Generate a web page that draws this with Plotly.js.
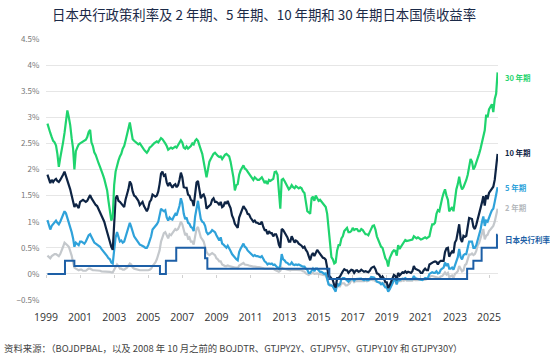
<!DOCTYPE html>
<html>
<head>
<meta charset="utf-8">
<script src="https://cdn.plot.ly/plotly-3.0.1.min.js"></script>
<style>
  html, body { margin: 0; padding: 0; background: #fff; }
  #chart { width: 550px; height: 360px; }
</style>
</head>
<body>
<div id="chart"></div>
<script>
// Monthly observations, Aug 1999 .. Jan 2026 (percent)
const startYear = 1999, startMonth = 8;

const jgb30y = [
  2.88, 2.76, 2.70, 2.62, 2.55,
  2.52, 2.46, 2.30, 2.05, 2.22, 2.35, 2.52, 2.70, 2.95, 3.13, 3.00, 2.85,
  2.60, 2.40, 2.00, 2.35, 2.42, 2.48, 2.50, 2.52, 2.53, 2.55, 2.57, 2.62,
  2.72, 2.76, 2.52, 2.45, 2.33, 2.28, 2.18, 2.12, 2.05, 1.99, 1.90, 1.82,
  1.72, 1.60, 1.40, 1.15, 1.02, 1.10, 1.70, 1.96, 2.10, 2.17, 2.25, 2.30,
  2.40, 2.45, 2.55, 2.65, 2.78, 2.90, 2.70, 2.58, 2.55, 2.52, 2.50, 2.48,
  2.50, 2.45, 2.42, 2.38, 2.35, 2.32, 2.36, 2.42, 2.44, 2.48, 2.50, 2.52,
  2.54, 2.52, 2.56, 2.60, 2.58, 2.55, 2.50, 2.45, 2.38, 2.40, 2.42, 2.40,
  2.42, 2.44, 2.42, 2.46, 2.50, 2.56, 2.52, 2.42, 2.40, 2.44, 2.40, 2.42,
  2.45, 2.50, 2.48, 2.55, 2.58, 2.55, 2.45, 2.38, 2.30, 2.15, 2.02, 1.85,
  2.00, 2.15, 2.20, 2.25, 2.30, 2.32, 2.28, 2.26, 2.24, 2.25, 2.20, 2.25,
  2.28, 2.30, 2.28, 2.25, 2.15, 2.00, 1.85, 1.60, 1.70, 1.72, 1.90, 1.98,
  2.04, 2.08, 2.02, 2.00, 1.96, 1.92, 1.88, 1.84, 1.80, 1.85, 1.82, 1.80,
  1.80, 1.82, 1.85, 1.80, 1.74, 1.78, 1.72, 1.80, 1.78, 1.80, 1.82, 1.95,
  1.96, 1.90, 1.55, 1.25, 1.80, 1.82, 1.78, 1.72, 1.68, 1.62, 1.65, 1.70,
  1.66, 1.64, 1.68, 1.66, 1.64, 1.66, 1.64, 1.58, 1.55, 1.38, 1.20, 1.18,
  1.15, 1.45, 1.48, 1.40, 1.50, 1.45, 1.40, 1.42, 1.38, 1.35, 1.32, 1.28,
  1.15, 0.85, 0.60, 0.32, 0.28, 0.20, 0.22, 0.45, 0.55, 0.55, 0.68, 0.72,
  0.82, 0.86, 0.88, 0.80, 0.80, 0.82, 0.88, 0.84, 0.86, 0.86, 0.82, 0.82,
  0.86, 0.84, 0.80, 0.76, 0.76, 0.74, 0.80, 0.86, 0.92, 0.93, 0.85, 0.72,
  0.64, 0.60, 0.52, 0.50, 0.40, 0.30, 0.26, 0.14, 0.30, 0.38, 0.42, 0.45,
  0.44, 0.35, 0.55, 0.48, 0.52, 0.58, 0.60, 0.65, 0.63, 0.64, 0.65, 0.66,
  0.66, 0.72, 0.70, 0.68, 0.70, 0.68, 0.66, 0.67, 0.68, 0.70, 0.68, 0.70,
  0.72, 0.85, 0.95, 0.95, 0.98, 1.15, 1.22, 1.20, 1.35, 1.45, 1.55, 1.62,
  1.50, 1.42, 1.20, 1.25, 1.28, 1.20, 1.45, 1.62, 1.72, 1.86, 1.70, 1.62,
  1.66, 1.72, 1.80, 1.90, 2.10, 2.20, 2.15, 2.00, 2.05, 2.15, 2.25, 2.30,
  2.40, 2.52, 2.60, 2.75, 3.05, 3.00, 3.15, 3.20, 3.25, 3.10, 3.35, 3.45,
  3.86
];

const jgb10y = [
  1.90, 1.82, 1.74, 1.80, 1.76,
  1.80, 1.82, 1.78, 1.76, 1.80, 1.84, 1.90, 1.96, 1.88, 1.80, 1.74, 1.62,
  1.50, 1.40, 1.28, 1.34, 1.30, 1.26, 1.38, 1.40, 1.42, 1.40, 1.38, 1.40,
  1.46, 1.51, 1.45, 1.40, 1.38, 1.32, 1.30, 1.24, 1.20, 1.12, 1.06, 1.00,
  0.90, 0.80, 0.70, 0.60, 0.52, 0.46, 0.95, 1.45, 1.50, 1.40, 1.38, 1.35,
  1.32, 1.28, 1.42, 1.52, 1.62, 1.77, 1.72, 1.58, 1.50, 1.48, 1.45, 1.40,
  1.32, 1.35, 1.38, 1.30, 1.25, 1.20, 1.26, 1.38, 1.42, 1.52, 1.50, 1.48,
  1.50, 1.58, 1.72, 1.92, 1.96, 1.88, 1.90, 1.75, 1.68, 1.75, 1.70, 1.65,
  1.70, 1.72, 1.66, 1.70, 1.80, 1.94, 1.85, 1.66, 1.65, 1.65, 1.52, 1.50,
  1.42, 1.40, 1.30, 1.58, 1.75, 1.78, 1.58, 1.45, 1.50, 1.52, 1.45, 1.25,
  1.28, 1.30, 1.33, 1.42, 1.45, 1.38, 1.38, 1.36, 1.32, 1.38, 1.28, 1.30,
  1.38, 1.34, 1.40, 1.32, 1.26, 1.12, 1.06, 0.96, 0.92, 0.88, 1.08, 1.16,
  1.24, 1.30, 1.26, 1.22, 1.15, 1.14, 1.08, 1.03, 1.00, 1.02, 0.98, 0.98,
  0.96, 0.96, 1.00, 0.90, 0.84, 0.84, 0.76, 0.82, 0.78, 0.78, 0.72, 0.76,
  0.76, 0.68, 0.56, 0.50, 0.86, 0.84, 0.80, 0.74, 0.70, 0.62, 0.62, 0.72,
  0.64, 0.60, 0.64, 0.62, 0.58, 0.56, 0.54, 0.50, 0.52, 0.46, 0.42, 0.34,
  0.26, 0.36, 0.40, 0.34, 0.40, 0.46, 0.42, 0.38, 0.35, 0.31, 0.30, 0.27,
  0.12, -0.05, -0.05, -0.10, -0.12, -0.22, -0.26, -0.08, -0.08, -0.05, 0.02, 0.05,
  0.09, 0.07, 0.07, 0.02, 0.05, 0.08, 0.07, 0.02, 0.06, 0.07, 0.04, 0.05,
  0.08, 0.05, 0.04, 0.05, 0.04, 0.03, 0.06, 0.11, 0.13, 0.14, 0.09, 0.01,
  0.00, -0.03, -0.09, -0.05, -0.09, -0.16, -0.16, -0.27, -0.22, -0.14, -0.08, -0.02,
  -0.04, -0.12, 0.02, -0.03, 0.00, 0.03, 0.02, 0.05, 0.02, 0.04, 0.03, 0.02,
  0.05, 0.15, 0.10, 0.09, 0.08, 0.06, 0.02, 0.02, 0.07, 0.10, 0.07, 0.07,
  0.18, 0.20, 0.22, 0.23, 0.24, 0.23, 0.18, 0.23, 0.25, 0.25, 0.25, 0.42,
  0.49, 0.50, 0.33, 0.39, 0.43, 0.40, 0.60, 0.65, 0.77, 0.95, 0.67, 0.61,
  0.73, 0.71, 0.73, 0.88, 1.07, 1.06, 1.05, 0.90, 0.86, 0.94, 1.05, 1.10,
  1.23, 1.37, 1.49, 1.31, 1.51, 1.43, 1.55, 1.60, 1.65, 1.67, 1.80, 2.05,
  2.30
];

const jgb5y = [
  1.03, 0.92, 0.85, 0.92, 0.96,
  1.00, 1.02, 0.98, 0.95, 1.00, 1.06, 1.12, 1.20, 1.16, 1.08, 1.00, 0.88,
  0.80, 0.68, 0.52, 0.60, 0.58, 0.55, 0.62, 0.62, 0.60, 0.58, 0.62, 0.68,
  0.74, 0.76, 0.70, 0.64, 0.60, 0.58, 0.56, 0.54, 0.52, 0.48, 0.45, 0.42,
  0.38, 0.34, 0.30, 0.28, 0.22, 0.20, 0.45, 0.70, 0.80, 0.68, 0.62, 0.64,
  0.60, 0.62, 0.70, 0.80, 0.90, 0.98, 0.90, 0.78, 0.72, 0.68, 0.64, 0.60,
  0.56, 0.55, 0.54, 0.52, 0.50, 0.50, 0.55, 0.62, 0.72, 0.85, 0.88, 0.90,
  0.95, 1.00, 1.12, 1.25, 1.22, 1.20, 1.22, 1.08, 1.02, 1.08, 1.05, 1.04,
  1.10, 1.15, 1.12, 1.20, 1.30, 1.45, 1.35, 1.15, 1.05, 1.08, 0.98, 0.96,
  0.90, 0.88, 0.82, 1.10, 1.30, 1.40, 1.22, 1.05, 1.00, 0.98, 0.92, 0.80,
  0.76, 0.78, 0.80, 0.84, 0.82, 0.80, 0.74, 0.68, 0.64, 0.70, 0.58, 0.56,
  0.52, 0.50, 0.54, 0.50, 0.44, 0.38, 0.34, 0.30, 0.28, 0.26, 0.42, 0.48,
  0.54, 0.58, 0.52, 0.50, 0.45, 0.42, 0.40, 0.36, 0.34, 0.36, 0.34, 0.34,
  0.33, 0.32, 0.34, 0.28, 0.24, 0.22, 0.18, 0.20, 0.19, 0.20, 0.17, 0.18,
  0.14, 0.12, 0.10, 0.16, 0.38, 0.28, 0.26, 0.22, 0.21, 0.18, 0.18, 0.22,
  0.18, 0.17, 0.18, 0.17, 0.18, 0.16, 0.15, 0.14, 0.14, 0.10, 0.08, 0.02,
  0.02, 0.06, 0.10, 0.05, 0.10, 0.10, 0.06, 0.04, 0.04, 0.02, 0.00, 0.01,
  -0.08, -0.20, -0.22, -0.22, -0.24, -0.30, -0.34, -0.18, -0.22, -0.20, -0.10, -0.08,
  -0.08, -0.10, -0.12, -0.15, -0.12, -0.10, -0.10, -0.13, -0.10, -0.10, -0.10, -0.10,
  -0.09, -0.11, -0.12, -0.10, -0.12, -0.12, -0.10, -0.06, -0.06, -0.07, -0.10, -0.15,
  -0.16, -0.17, -0.20, -0.18, -0.22, -0.26, -0.26, -0.34, -0.30, -0.22, -0.18, -0.11,
  -0.12, -0.20, -0.10, -0.12, -0.10, -0.09, -0.10, -0.08, -0.10, -0.10, -0.10, -0.11,
  -0.10, -0.04, -0.08, -0.09, -0.10, -0.10, -0.12, -0.12, -0.10, -0.08, -0.09, -0.07,
  0.00, 0.02, 0.03, 0.02, 0.02, 0.05, 0.01, 0.02, 0.08, 0.10, 0.12, 0.22,
  0.15, 0.20, 0.10, 0.10, 0.12, 0.08, 0.18, 0.24, 0.32, 0.48, 0.32, 0.28,
  0.36, 0.38, 0.38, 0.48, 0.62, 0.62, 0.62, 0.50, 0.50, 0.55, 0.65, 0.70,
  0.85, 1.00, 1.10, 0.92, 1.02, 1.00, 1.10, 1.15, 1.22, 1.25, 1.38, 1.52,
  1.66
];

const jgb2y = [
  0.35, 0.32, 0.30, 0.34, 0.36,
  0.38, 0.38, 0.36, 0.34, 0.38, 0.44, 0.52, 0.60, 0.58, 0.55, 0.52, 0.45,
  0.35, 0.22, 0.12, 0.10, 0.08, 0.07, 0.08, 0.08, 0.06, 0.06, 0.06, 0.08,
  0.10, 0.10, 0.08, 0.07, 0.07, 0.07, 0.06, 0.06, 0.06, 0.05, 0.05, 0.05,
  0.05, 0.04, 0.04, 0.04, 0.03, 0.03, 0.08, 0.14, 0.18, 0.15, 0.10, 0.10,
  0.08, 0.08, 0.10, 0.12, 0.16, 0.20, 0.18, 0.12, 0.10, 0.09, 0.08, 0.08,
  0.07, 0.07, 0.07, 0.06, 0.06, 0.06, 0.07, 0.08, 0.10, 0.15, 0.18, 0.22,
  0.28, 0.35, 0.45, 0.62, 0.70, 0.78, 0.80, 0.72, 0.68, 0.76, 0.74, 0.78,
  0.82, 0.86, 0.84, 0.86, 0.92, 1.00, 0.95, 0.82, 0.74, 0.78, 0.68, 0.70,
  0.62, 0.62, 0.56, 0.72, 0.86, 0.90, 0.78, 0.70, 0.66, 0.62, 0.52, 0.42,
  0.38, 0.36, 0.38, 0.40, 0.38, 0.36, 0.30, 0.28, 0.24, 0.24, 0.18, 0.16,
  0.15, 0.15, 0.16, 0.15, 0.14, 0.14, 0.13, 0.12, 0.12, 0.11, 0.16, 0.18,
  0.20, 0.21, 0.18, 0.18, 0.17, 0.16, 0.15, 0.14, 0.14, 0.14, 0.13, 0.13,
  0.13, 0.12, 0.12, 0.11, 0.10, 0.10, 0.10, 0.10, 0.10, 0.10, 0.10, 0.08,
  0.07, 0.06, 0.04, 0.06, 0.12, 0.10, 0.10, 0.09, 0.08, 0.07, 0.07, 0.08,
  0.08, 0.07, 0.08, 0.08, 0.08, 0.07, 0.07, 0.05, 0.04, 0.01, -0.01, -0.02,
  0.00, 0.01, 0.02, 0.00, 0.01, 0.01, 0.00, 0.00, -0.01, -0.02, -0.02, -0.03,
  -0.10, -0.20, -0.20, -0.22, -0.24, -0.28, -0.32, -0.18, -0.24, -0.24, -0.18, -0.18,
  -0.18, -0.22, -0.22, -0.20, -0.18, -0.12, -0.12, -0.16, -0.14, -0.14, -0.14, -0.14,
  -0.14, -0.15, -0.14, -0.13, -0.14, -0.13, -0.12, -0.11, -0.12, -0.12, -0.14, -0.15,
  -0.15, -0.17, -0.17, -0.17, -0.19, -0.21, -0.20, -0.28, -0.28, -0.22, -0.18, -0.13,
  -0.13, -0.20, -0.12, -0.14, -0.14, -0.12, -0.13, -0.11, -0.13, -0.13, -0.14, -0.13,
  -0.13, -0.10, -0.12, -0.12, -0.12, -0.12, -0.12, -0.12, -0.12, -0.11, -0.10, -0.09,
  -0.06, -0.04, -0.04, -0.05, -0.05, -0.07, -0.07, -0.08, -0.05, -0.04, -0.01, 0.03,
  -0.01, 0.02, -0.06, -0.04, -0.03, -0.08, 0.00, 0.02, 0.05, 0.15, 0.08, 0.05,
  0.07, 0.17, 0.19, 0.27, 0.37, 0.37, 0.39, 0.36, 0.38, 0.44, 0.55, 0.59,
  0.70, 0.80, 0.86, 0.66, 0.73, 0.75, 0.82, 0.85, 0.90, 0.92, 1.00, 1.10,
  1.25
];

// Bank of Japan policy rate (step changes)
const policyDates = ['1999-08-01', '2000-08-11', '2001-02-28', '2006-03-09', '2006-07-14',
  '2007-02-21', '2008-10-31', '2008-12-19', '2016-02-16', '2024-03-19', '2024-07-31',
  '2025-01-24', '2025-12-19', '2026-01-01'];
const policyRates = [0, 0.25, 0.15, 0, 0.25, 0.5, 0.3, 0.1, -0.1, 0.1, 0.25, 0.5, 0.75, 0.75];

const seriesNames = ['30 年期', '10 年期', '5 年期', '2 年期', '日本央行利率'];
const tickYears = ['1999', '2001', '2003', '2005', '2007', '2009', '2011', '2013',
  '2015', '2017', '2019', '2021', '2023', '2025'];

function monthDates(n) {
  const out = [];
  let y = startYear, m = startMonth;
  for (let i = 0; i < n; i++) {
    out.push(y + '-' + String(m).padStart(2, '0') + '-01');
    m++; if (m > 12) { m = 1; y++; }
  }
  return out;
}
const dates = monthDates(jgb10y.length);

const C30 = '#1fd46e', C10 = '#0e2444', C5 = '#2fa2da', C2 = '#c4c8cc', CP = '#1d5fa6';

const tickVals = tickYears.map(y => y + '-07-01');
const xRange = ['1999-07-01', '2026-01-10'];

const traces = [
  {x: dates, y: jgb2y, name: seriesNames[3], type: 'scatter', mode: 'lines', line: {color: C2, width: 2.2}},
  {x: dates, y: jgb5y, name: seriesNames[2], type: 'scatter', mode: 'lines', line: {color: C5, width: 2.2}},
  {x: dates, y: jgb10y, name: seriesNames[1], type: 'scatter', mode: 'lines', line: {color: C10, width: 2.2}},
  {x: dates, y: jgb30y, name: seriesNames[0], type: 'scatter', mode: 'lines', line: {color: C30, width: 2.2}},
  {x: policyDates, y: policyRates, name: seriesNames[4], type: 'scatter', mode: 'lines', xaxis: 'x2',
    line: {color: CP, width: 2, shape: 'hv'}}
];

const labelY = [3.77, 2.32, 1.65, 1.28, 0.65];
const labelColors = [C30, C10, C5, '#b5b9bd', CP];

const annotations = seriesNames.map((t, i) => ({
  text: t, xref: 'paper', yref: 'y', x: 1.011, y: labelY[i], xanchor: 'left', yanchor: 'middle',
  showarrow: false, font: {family: 'Noto Sans CJK SC', size: 7.5, color: labelColors[i], weight: 'bold'}
}));
annotations.push({
  text: '资料来源：（BOJDPBAL，以及 2008 年 10 月之前的 BOJDTR、GTJPY2Y、GTJPY5Y、GTJPY10Y 和 GTJPY30Y）',
  xref: 'paper', yref: 'paper', x: (2 - 46) / 452, y: -(348 - 300) / 261, xanchor: 'left', yanchor: 'middle',
  showarrow: false, font: {family: 'Noto Sans CJK SC', size: 9.4, color: '#444'}
});

const layout = {
  width: 550, height: 360,
  margin: {l: 46, r: 52, t: 39, b: 60},
  paper_bgcolor: '#fff', plot_bgcolor: '#fff',
  showlegend: false,
  title: {
    text: '日本央行政策利率及 2 年期、5 年期、10 年期和 30 年期日本国债收益率',
    xref: 'container', yref: 'container', x: 52 / 550, xanchor: 'left', y: 1 - 15 / 360, yanchor: 'middle',
    font: {family: 'Noto Sans CJK SC', size: 13.4, color: '#1b2a48'}
  },
  xaxis: {
    type: 'date', range: xRange, tickvals: tickVals, ticktext: tickYears,
    showgrid: false, zeroline: false, showline: false,
    ticks: 'outside', ticklen: 7, tickcolor: 'rgba(0,0,0,0)',
    tickfont: {family: 'Open Sans', size: 10.5, color: '#333'}
  },
  xaxis2: {
    type: 'date', range: xRange, tickvals: tickVals, overlaying: 'x', anchor: 'free', position: 0.1,
    showticklabels: false, showgrid: false, zeroline: false, showline: false,
    ticks: 'outside', ticklen: 3, tickcolor: '#d0d0d0', tickwidth: 1
  },
  yaxis: {
    range: [-0.5, 4.5], dtick: 0.5, tick0: 0, ticksuffix: '%',
    showgrid: true, gridcolor: '#e6e6e6', gridwidth: 1, zeroline: false, showline: false,
    ticks: 'outside', ticklen: 4, tickcolor: 'rgba(0,0,0,0)',
    tickfont: {family: 'Noto Sans CJK SC', size: 8, color: '#777'}
  },
  annotations: annotations
};

Plotly.newPlot('chart', traces, layout, {displayModeBar: false, staticPlot: true});
</script>
</body>
</html>
